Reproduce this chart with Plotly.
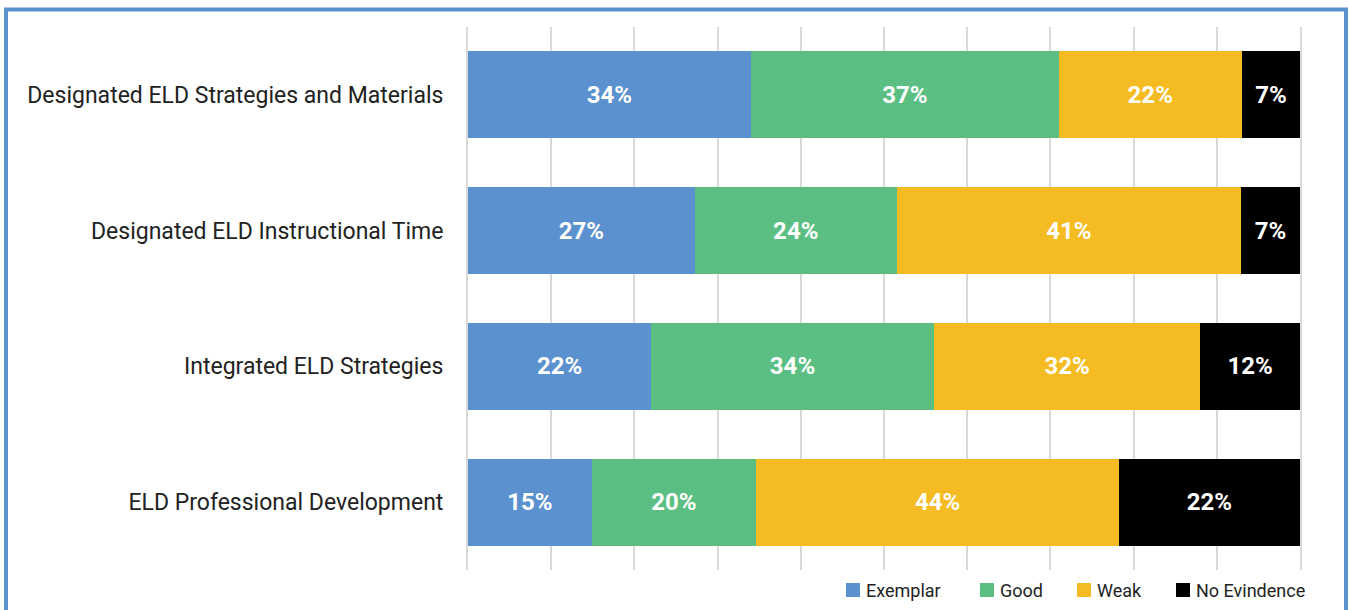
import plotly.graph_objects as go

# Review areas (top to bottom) and rating shares in percent
categories = [
    "Designated ELD Strategies and Materials",
    "Designated ELD Instructional Time",
    "Integrated ELD Strategies",
    "ELD Professional Development",
]
series_names = ["Exemplar", "Good", "Weak", "No Evindence"]
exemplar = [34, 27, 22, 15]
good = [37, 24, 34, 20]
weak = [22, 41, 32, 44]
no_evidence = [7, 7, 12, 22]
series_values = [exemplar, good, weak, no_evidence]
colors = ["#5B91CE", "#5BBF83", "#F4BC22", "#000000"]
x_ticks = list(range(0, 101, 10))

FONT = "Roboto, 'Noto Sans', sans-serif"

# Plot-area geometry in pixels (used to place the frame and legend key)
W, H = 1349, 610
L, R, T, B = 468, 49, 27, 40
PW, PH = W - L - R, H - T - B


def px_x(x):
    return (x - L) / PW


def px_y(y):
    return (H - B - y) / PH


fig = go.Figure()
for name, vals, col in zip(series_names, series_values, colors):
    fig.add_trace(go.Bar(
        y=categories,
        x=vals,
        name=name,
        orientation="h",
        marker=dict(color=col, line=dict(width=0)),
        text=vals,
        texttemplate="%{text}%",
        textposition="inside",
        insidetextanchor="middle",
        textangle=0,
        textfont=dict(family=FONT, size=24, color="white", weight="bold"),
        hoverinfo="skip",
        showlegend=False,
    ))

fig.update_layout(
    width=W,
    height=H,
    barmode="stack",
    barnorm="percent",
    bargap=0.36,
    paper_bgcolor="white",
    plot_bgcolor="white",
    margin=dict(l=L, r=R, t=T, b=B, autoexpand=False),
    font=dict(family=FONT, color="#222222"),
    xaxis=dict(
        range=[0, 100],
        tickvals=x_ticks,
        showticklabels=False,
        showgrid=True,
        gridcolor="#D9D9D9",
        gridwidth=2,
        zeroline=False,
        showline=False,
        fixedrange=True,
    ),
    yaxis=dict(
        autorange="reversed",
        showgrid=False,
        zeroline=False,
        showline=True,
        mirror=True,
        linecolor="#D9D9D9",
        linewidth=2,
        layer="below traces",
        ticks="",
        ticklabelstandoff=18,
        tickfont=dict(family=FONT, size=23, color="#222222"),
        fixedrange=True,
    ),
    showlegend=False,
)

# Legend key along the bottom right
legend_left = [846, 980, 1077, 1176]
key_size = 14
key_mid_y = 590
for name, col, x0 in zip(series_names, colors, legend_left):
    fig.add_shape(
        type="rect",
        xref="paper", yref="paper",
        x0=px_x(x0), x1=px_x(x0 + key_size),
        y0=px_y(key_mid_y + key_size / 2), y1=px_y(key_mid_y - key_size / 2),
        line=dict(width=0),
        fillcolor=col,
    )
    fig.add_annotation(
        xref="paper", yref="paper",
        x=px_x(x0 + key_size + 4), y=px_y(key_mid_y),
        xanchor="left", yanchor="middle",
        text=name,
        showarrow=False,
        font=dict(family=FONT, size=18, color="#222222"),
    )

# Outer frame around the chart
fig.add_shape(
    type="rect",
    xref="paper", yref="paper",
    x0=px_x(6), x1=px_x(1346),
    y0=px_y(620), y1=px_y(9.5),
    line=dict(color="#5B91CE", width=4),
    fillcolor="rgba(0,0,0,0)",
    layer="above",
)

fig.write_html("out.html")
